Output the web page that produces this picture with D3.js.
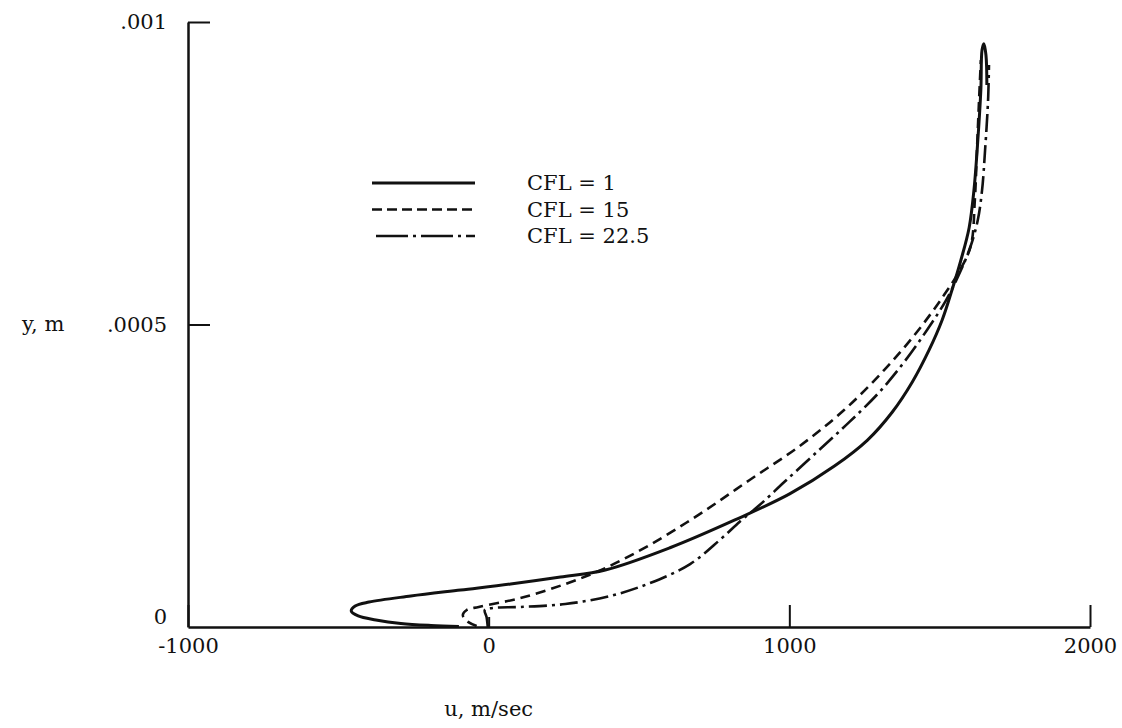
<!DOCTYPE html>
<html>
<head>
<meta charset="utf-8">
<script src="https://cdn.jsdelivr.net/npm/d3@7"></script>
<style>
  body { margin: 0; background: #fff; }
  text { font-family: "DejaVu Serif", serif; font-size: 21px; fill: #111; }
</style>
</head>
<body>
<script>
// velocity profiles, u (m/sec) vs y (m)
var seriesNames = ['CFL = 1', 'CFL = 15', 'CFL = 22.5'];

var cfl1U = [-99, -192, -292, -375, -434, -457, -444, -398, -259, -93, 73, 239, 388, 603, 819, 1001,
  1150, 1260, 1342, 1409, 1465, 1508, 1541, 1571, 1598, 1614, 1627, 1637, 1641, 1647, 1654, 1657];
var cfl1Y = [0.0000008, 0.0000025, 0.0000058, 0.0000116, 0.0000182, 0.0000264, 0.0000347, 0.0000413,
  0.0000512, 0.0000612, 0.0000711, 0.0000826, 0.0000942, 0.000131, 0.000177, 0.00022, 0.000266,
  0.000309, 0.000355, 0.000405, 0.000458, 0.000507, 0.000557, 0.000607, 0.00066, 0.000722, 0.000805,
  0.000888, 0.000954, 0.000964, 0.000945, 0.000896];

var cfl15U = [-40, -73, -86, -73, -33, 106, 255, 388, 537, 703, 868, 1034, 1183, 1316, 1425, 1515,
  1571, 1604, 1617, 1624, 1631, 1637];
var cfl15Y = [0.0000017, 0.0000099, 0.0000198, 0.0000281, 0.0000331, 0.0000479, 0.0000711, 0.0000975,
  0.000136, 0.000187, 0.000243, 0.000299, 0.000359, 0.000425, 0.000488, 0.000549, 0.000593, 0.000631,
  0.000706, 0.000788, 0.000871, 0.000937];

var cfl225U = [-3, -7, -13, 13, 106, 255, 404, 537, 670, 769, 835, 902, 984, 1100, 1200, 1299, 1382,
  1458, 1521, 1571, 1604, 1627, 1641, 1651, 1661, 1664];
var cfl225Y = [0, 0.0000165, 0.000028, 0.0000314, 0.0000331, 0.000038, 0.0000512, 0.0000727, 0.000104,
  0.000144, 0.000174, 0.000202, 0.00024, 0.000293, 0.000339, 0.000388, 0.000438, 0.000491, 0.00054,
  0.00059, 0.000631, 0.000673, 0.000722, 0.000788, 0.000871, 0.000929];

var xTicks = [-1000, 0, 1000, 2000];
var xTickLabels = ['-1000', '0', '1000', '2000'];
var yTicks = [0, 0.0005, 0.001];
var yTickLabels = ['0', '.0005', '.001'];

// line styles (not data)
var dashes = ['none', '10,6', '18,5,3,5'];
var legendDashes = ['none', '10,5', '32,5,3,5'];
var widths = [3, 2.6, 2.6];

var svgWidth = 1122, svgHeight = 728;
var margin = {top: 22, left: 188, right: 32, bottom: 101};
var chartWidth = svgWidth - margin.left - margin.right;
var chartHeight = svgHeight - margin.top - margin.bottom;

var svg = d3.select('body').append('svg')
  .attr('width', svgWidth)
  .attr('height', svgHeight);

var chart = svg.append('g')
  .attr('transform', 'translate(' + margin.left + ',' + margin.top + ')');

var x = d3.scaleLinear().domain([-1000, 2000]).range([0, chartWidth]);
var y = d3.scaleLinear().domain([0, 0.001]).range([chartHeight, 0]);

var series = [
  d3.zip(cfl1U, cfl1Y),
  d3.zip(cfl15U, cfl15Y),
  d3.zip(cfl225U, cfl225Y)
];

var line = d3.line()
  .x(function(d) { return x(d[0]); })
  .y(function(d) { return y(d[1]); })
  .curve(d3.curveCatmullRom.alpha(0.5));

// axes, ticks pointing into the plot
var bottomAxis = d3.axisBottom(x)
  .tickValues(xTicks)
  .tickFormat(function(d, i) { return xTickLabels[i]; })
  .tickSizeInner(-22)
  .tickSizeOuter(0)
  .tickPadding(11);

var leftAxis = d3.axisLeft(y)
  .tickValues(yTicks)
  .tickFormat(function(d, i) { return yTickLabels[i]; })
  .tickSizeInner(-22)
  .tickSizeOuter(0)
  .tickPadding(21);

var gx = chart.append('g')
  .attr('transform', 'translate(0,' + chartHeight + ')')
  .call(bottomAxis);

var gy = chart.append('g').call(leftAxis);

[gx, gy].forEach(function(g) {
  g.attr('font-family', null).attr('font-size', null);
  g.selectAll('line').attr('stroke', '#111').attr('stroke-width', 2);
  g.selectAll('.domain').attr('stroke', '#111').attr('stroke-width', 2.5);
});

// short tick at 0 on x axis, none at 0 on y axis
gx.selectAll('.tick line').attr('y2', function(d) { return d === 0 ? -10 : -22; });
gy.selectAll('.tick line').attr('x2', function(d) { return d === 0 ? 0 : 22; });
gy.selectAll('.tick text').attr('dy', function(d) { return d === 0 ? '-0.15em' : '0.32em'; });

chart.selectAll('path.curve')
  .data(series)
  .enter()
  .append('path')
  .attr('class', 'curve')
  .attr('d', line)
  .attr('fill', 'none')
  .attr('stroke', '#111')
  .attr('stroke-width', function(d, i) { return widths[i]; })
  .attr('stroke-dasharray', function(d, i) { return dashes[i]; })
  .attr('stroke-linejoin', 'round');

// axis titles
chart.append('text')
  .attr('x', x(0))
  .attr('y', chartHeight + 89)
  .attr('text-anchor', 'middle')
  .text('u, m/sec');

chart.append('text')
  .attr('x', -166)
  .attr('y', y(0.0005))
  .attr('dy', '0.32em')
  .text('y, m');

// legend
var legend = chart.append('g')
  .attr('transform', 'translate(' + 184 + ',' + 161 + ')');

var item = legend.selectAll('g')
  .data(seriesNames)
  .enter()
  .append('g')
  .attr('transform', function(d, i) { return 'translate(0,' + (i * 26.5) + ')'; });

item.append('line')
  .attr('x1', function(d, i) { return i === 2 ? 4 : 0; })
  .attr('x2', 103)
  .attr('stroke', '#111')
  .attr('stroke-width', function(d, i) { return widths[i]; })
  .attr('stroke-dasharray', function(d, i) { return legendDashes[i]; });

item.append('text')
  .attr('x', 155)
  .attr('dy', '0.35em')
  .text(function(d) { return d; });
</script>
</body>
</html>
